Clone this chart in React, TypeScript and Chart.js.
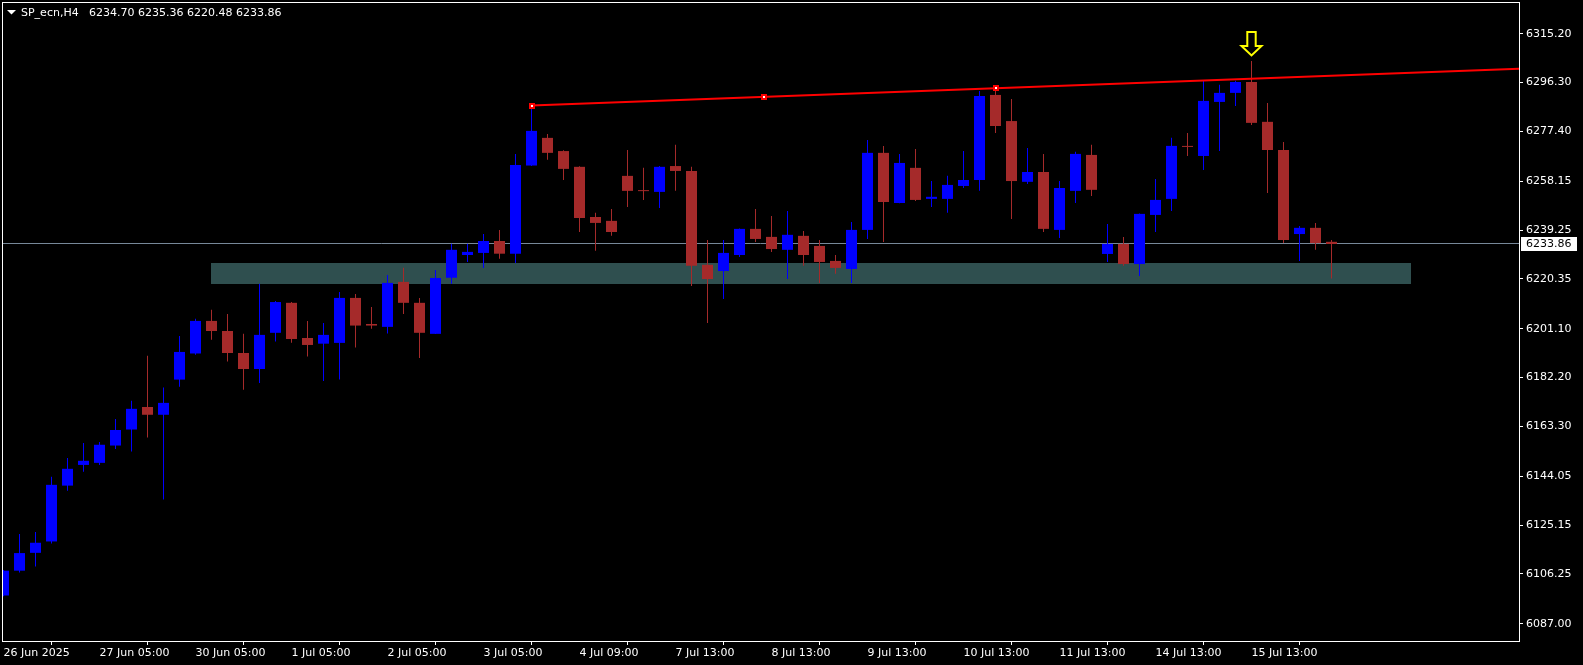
import React, { useEffect, useRef } from 'react';
import { Chart, registerables } from 'chart.js';

Chart.register(...registerables);

// ---------- data ----------
const SYMBOL = 'SP_ecn,H4';

const OPEN = [
  6097.9, 6107.5, 6114.4, 6118.8, 6140.4, 6148.4, 6149.2, 6155.9, 6162.1, 6170.8,
  6167.8, 6181.4, 6191.5, 6204.1, 6200.2, 6191.7, 6185.5, 6199.5, 6211.1, 6197.5,
  6195.3, 6195.6, 6213.0, 6202.9, 6201.8, 6219.2, 6211.1, 6199.1, 6220.8, 6229.6,
  6230.4, 6235.0, 6230.1, 6264.2, 6274.9, 6269.8, 6263.7, 6244.3, 6242.8, 6260.2,
  6254.6, 6254.0, 6264.0, 6262.1, 6225.8, 6223.4, 6229.6, 6239.7, 6236.6, 6231.6,
  6237.0, 6233.1, 6227.3, 6224.2, 6239.3, 6269.1, 6249.7, 6263.3, 6251.3, 6251.3,
  6256.3, 6258.6, 6291.5, 6281.4, 6257.9, 6261.7, 6239.3, 6254.4, 6268.3, 6230.0,
  6233.9, 6226.1, 6245.1, 6251.3, 6271.6, 6267.9, 6288.8, 6292.3, 6296.5, 6281.1,
  6270.2, 6237.7, 6240.1, 6234.70,
];
const HIGH = [
  6107.8, 6121.7, 6122.5, 6143.8, 6151.1, 6156.9, 6157.3, 6166.2, 6173.2, 6190.6,
  6178.3, 6198.3, 6204.9, 6208.4, 6206.8, 6199.1, 6218.5, 6211.8, 6211.4, 6204.1,
  6203.3, 6215.3, 6214.5, 6209.5, 6221.9, 6224.7, 6213.0, 6223.8, 6233.9, 6233.9,
  6237.7, 6239.3, 6268.7, 6287.4, 6276.4, 6270.1, 6263.9, 6245.9, 6247.4, 6270.2,
  6263.3, 6264.0, 6272.2, 6263.7, 6235.4, 6235.4, 6239.8, 6247.4, 6244.7, 6246.6,
  6238.9, 6235.4, 6229.6, 6242.4, 6274.1, 6271.8, 6268.7, 6270.6, 6258.2, 6260.2,
  6269.8, 6293.0, 6294.1, 6289.9, 6271.0, 6268.7, 6258.2, 6269.5, 6272.2, 6241.6,
  6236.6, 6245.6, 6259.0, 6274.9, 6276.8, 6297.3, 6295.4, 6297.0, 6304.6, 6288.4,
  6273.3, 6240.8, 6242.0, 6235.36,
];
const LOW = [
  6097.6, 6106.8, 6109.1, 6118.0, 6138.4, 6145.8, 6148.4, 6154.6, 6153.6, 6159.0,
  6135.0, 6178.6, 6191.0, 6196.8, 6188.4, 6177.5, 6180.1, 6196.1, 6195.7, 6190.3,
  6180.9, 6181.4, 6193.8, 6201.1, 6199.2, 6206.8, 6189.8, 6199.0, 6218.5, 6226.9,
  6224.6, 6228.1, 6226.5, 6264.0, 6266.4, 6258.6, 6238.5, 6231.2, 6237.0, 6248.2,
  6250.9, 6247.8, 6254.4, 6217.6, 6203.3, 6212.6, 6228.8, 6234.6, 6230.8, 6220.3,
  6225.4, 6218.8, 6222.3, 6218.8, 6235.8, 6234.6, 6249.6, 6250.5, 6248.2, 6245.9,
  6255.5, 6254.4, 6276.8, 6243.5, 6257.1, 6238.5, 6236.2, 6249.7, 6252.4, 6226.9,
  6225.4, 6221.5, 6238.5, 6246.6, 6267.9, 6262.5, 6269.8, 6287.2, 6279.9, 6253.6,
  6234.2, 6227.3, 6231.6, 6220.48,
];
const CLOSE = [
  6107.5, 6114.3, 6118.3, 6140.7, 6146.9, 6150.0, 6156.2, 6161.9, 6170.1, 6167.8,
  6172.4, 6192.1, 6204.1, 6200.2, 6191.7, 6185.5, 6198.7, 6211.4, 6197.1, 6194.8,
  6198.7, 6213.0, 6202.3, 6202.3, 6218.8, 6211.1, 6199.5, 6220.7, 6231.6, 6230.8,
  6235.0, 6230.1, 6264.4, 6277.6, 6269.1, 6262.9, 6243.9, 6242.0, 6238.5, 6254.4,
  6254.3, 6263.7, 6262.1, 6225.4, 6220.3, 6230.4, 6239.7, 6235.8, 6231.9, 6237.4,
  6229.6, 6226.9, 6224.6, 6239.3, 6269.1, 6250.1, 6265.2, 6250.9, 6252.1, 6256.7,
  6258.6, 6291.1, 6279.5, 6258.2, 6261.7, 6239.7, 6255.5, 6268.7, 6254.8, 6233.9,
  6226.1, 6245.5, 6250.9, 6271.8, 6271.4, 6289.2, 6292.3, 6296.5, 6280.7, 6270.2,
  6235.4, 6240.1, 6234.2, 6233.86,
];

const X_TICK_BARS = [0, 6, 12, 18, 24, 30, 36, 42, 48, 54, 60, 66, 72, 78];
const X_TICK_LABELS = [
  '26 Jun 2025', '27 Jun 05:00', '30 Jun 05:00', '1 Jul 05:00', '2 Jul 05:00',
  '3 Jul 05:00', '4 Jul 09:00', '7 Jul 13:00', '8 Jul 13:00', '9 Jul 13:00',
  '10 Jul 13:00', '11 Jul 13:00', '14 Jul 13:00', '15 Jul 13:00',
];
const Y_TICKS = [
  6315.2, 6296.3, 6277.4, 6258.15, 6239.25, 6220.35, 6201.1,
  6182.2, 6163.3, 6144.05, 6125.15, 6106.25, 6087.0,
];

const BID = 6233.86;
const ZONE_BARS = [13, 88];
const ZONE_PRICES = [6218.2, 6226.5];
const TREND_A = { x: 33, y: 6287.4 };
const TREND_B = { x: 62, y: 6294.1 };
const ARROW_BAR = 78;
const ARROW_PRICE = 6306.2;

// view range
const X_MIN = -0.09375;
const X_MAX = 94.71875;
const Y_MIN = 6080.3;
const Y_MAX = 6327.45;

// ---------- styles ----------
const BULL = '#0000FF';
const BEAR = '#A52A2A';
const FONT = '11px "DejaVu Sans"';

export default function App() {
  const ref = useRef<HTMLCanvasElement | null>(null);

  useEffect(() => {
    if (!ref.current) return;
    const n = OPEN.length;
    const colors = OPEN.map((o, i) => (CLOSE[i] >= o ? BULL : BEAR));
    const slope = (TREND_B.y - TREND_A.y) / (TREND_B.x - TREND_A.x);
    const trendData = [TREND_A, TREND_B, { x: X_MAX + 1, y: TREND_A.y + slope * (X_MAX + 1 - TREND_A.x) }];

    const mtPlugin = {
      id: 'mt',
      beforeDraw(chart: any) {
        const c = chart.ctx;
        c.save();
        c.fillStyle = '#000';
        c.fillRect(0, 0, chart.width, chart.height);
        c.restore();
      },
      beforeDatasetsDraw(chart: any) {
        const c = chart.ctx;
        const xs = chart.scales.x;
        const ys = chart.scales.y;
        const a = chart.chartArea;
        c.save();
        c.beginPath();
        c.rect(a.left, a.top, a.right - a.left, a.bottom - a.top);
        c.clip();
        // zone
        const zx1 = Math.floor(xs.getPixelForValue(ZONE_BARS[0]));
        const zx2 = Math.floor(xs.getPixelForValue(ZONE_BARS[1]));
        const zy1 = Math.round(ys.getPixelForValue(ZONE_PRICES[1]));
        const zy2 = Math.round(ys.getPixelForValue(ZONE_PRICES[0]));
        c.fillStyle = 'rgb(47,79,79)';
        c.fillRect(zx1, zy1, zx2 - zx1, zy2 - zy1);
        // bid line
        const by = Math.floor(ys.getPixelForValue(BID)) + 0.5;
        c.strokeStyle = '#778899';
        c.lineWidth = 1;
        c.beginPath();
        c.moveTo(a.left, by);
        c.lineTo(a.right, by);
        c.stroke();
        c.restore();
      },
      afterDatasetsDraw(chart: any) {
        const c = chart.ctx;
        const xs = chart.scales.x;
        const ys = chart.scales.y;
        c.save();
        // trend line anchor markers
        const pts = [TREND_A, { x: (TREND_A.x + TREND_B.x) / 2, y: (TREND_A.y + TREND_B.y) / 2 }, TREND_B];
        pts.forEach((p) => {
          const px = Math.round(xs.getPixelForValue(p.x));
          const py = Math.round(ys.getPixelForValue(p.y));
          c.fillStyle = '#FF0000';
          c.fillRect(px - 3, py - 3, 6, 6);
          c.fillStyle = '#FFFFFF';
          c.fillRect(px - 1, py - 1, 2, 2);
        });
        // arrow
        const cx = xs.getPixelForValue(ARROW_BAR);
        const ty = ys.getPixelForValue(ARROW_PRICE);
        c.beginPath();
        c.moveTo(cx - 4.2, ty - 25);
        c.lineTo(cx + 4.2, ty - 25);
        c.lineTo(cx + 4.2, ty - 11);
        c.lineTo(cx + 10, ty - 11);
        c.lineTo(cx, ty - 1.5);
        c.lineTo(cx - 10, ty - 11);
        c.lineTo(cx - 4.2, ty - 11);
        c.closePath();
        c.strokeStyle = '#FFFF00';
        c.lineWidth = 2;
        c.lineJoin = 'miter';
        c.stroke();
        c.restore();
      },
      afterDraw(chart: any) {
        const c = chart.ctx;
        const a = chart.chartArea;
        const ys = chart.scales.y;
        c.save();
        // frame
        c.strokeStyle = '#FFFFFF';
        c.lineWidth = 1;
        c.strokeRect(a.left + 0.5, a.top + 0.5, a.right - a.left, a.bottom - a.top);
        // bid price label
        const py = ys.getPixelForValue(BID);
        c.fillStyle = '#FFFFFF';
        c.fillRect(a.right + 2, Math.round(py) - 7, 56, 14);
        c.fillStyle = '#000000';
        c.font = FONT;
        c.textBaseline = 'middle';
        c.textAlign = 'left';
        c.fillText(BID.toFixed(2), a.right + 7, py);
        // title
        c.fillStyle = '#FFFFFF';
        c.beginPath();
        c.moveTo(7, 10);
        c.lineTo(16, 10);
        c.lineTo(11.5, 14.5);
        c.closePath();
        c.fill();
        const last = n - 1;
        c.fillText(SYMBOL, 21, 13);
        c.fillText(
          [OPEN[last], HIGH[last], LOW[last], CLOSE[last]].map((v) => v.toFixed(2)).join(' '),
          89,
          13,
        );
        c.restore();
      },
    };

    const chart = new Chart(ref.current, {
      type: 'bar',
      data: {
        datasets: [
          {
            type: 'line',
            data: trendData,
            borderColor: '#FF0000',
            borderWidth: 2,
            pointRadius: 0,
            tension: 0,
            order: 0,
          } as any,
          {
            type: 'bar',
            data: OPEN.map((o, i) => ({ x: i, y: [o, CLOSE[i]] })),
            backgroundColor: colors,
            borderWidth: 0,
            barThickness: 11,
            minBarLength: 1,
            grouped: false,
            inflateAmount: 0,
            order: 1,
          } as any,
          {
            type: 'bar',
            data: LOW.map((l, i) => ({ x: i, y: [l, HIGH[i]] })),
            backgroundColor: colors,
            borderWidth: 0,
            barThickness: 1,
            grouped: false,
            inflateAmount: 0,
            order: 2,
          } as any,
        ],
      },
      options: {
        animation: false,
        responsive: false,
        devicePixelRatio: 1,
        events: [],
        layout: { padding: { left: 2, top: 2, right: 0, bottom: 0 } },
        plugins: { legend: { display: false }, tooltip: { enabled: false }, title: { display: false } },
        scales: {
          x: {
            type: 'linear',
            position: 'bottom',
            min: X_MIN,
            max: X_MAX,
            offset: false,
            afterBuildTicks: (s: any) => {
              s.ticks = X_TICK_BARS.map((v) => ({ value: v }));
            },
            afterFit: (s: any) => {
              s.height = 24;
              s.paddingLeft = 0;
              s.paddingRight = 0;
            },
            ticks: {
              autoSkip: false,
              maxRotation: 0,
              minRotation: 0,
              align: 'start',
              color: '#FFFFFF',
              font: { family: 'DejaVu Sans', size: 11 },
              padding: 2,
              callback: (_v: any, i: number) => X_TICK_LABELS[i],
            },
            grid: { drawOnChartArea: false, drawTicks: true, tickLength: 4, color: '#FFFFFF', lineWidth: 1 },
            border: { display: false },
          },
          y: {
            type: 'linear',
            position: 'right',
            min: Y_MIN,
            max: Y_MAX,
            afterBuildTicks: (s: any) => {
              s.ticks = Y_TICKS.map((v) => ({ value: v }));
            },
            afterFit: (s: any) => {
              s.width = 64;
              s.paddingTop = 0;
              s.paddingBottom = 0;
            },
            ticks: {
              color: '#FFFFFF',
              font: { family: 'DejaVu Sans', size: 11 },
              padding: 3,
              callback: (v: any) => Number(v).toFixed(2),
            },
            grid: { drawOnChartArea: false, drawTicks: true, tickLength: 4, color: '#FFFFFF', lineWidth: 1 },
            border: { display: false },
          },
        },
      } as any,
      plugins: [mtPlugin],
    });

    return () => chart.destroy();
  }, []);

  return (
    <div style={{ position: 'fixed', left: 0, top: 0, width: 1583, height: 665, background: '#000' }}>
      <canvas ref={ref} width={1583} height={665} style={{ display: 'block', width: 1583, height: 665 }} />
    </div>
  );
}
